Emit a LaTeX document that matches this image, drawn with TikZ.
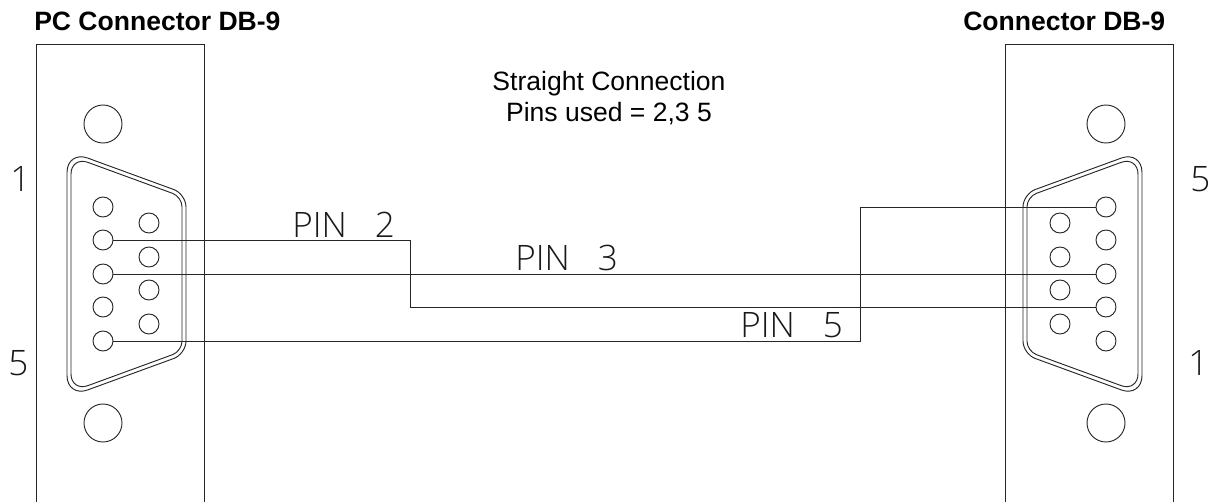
\documentclass[tikz,border=0pt]{standalone}
\usepackage{fontspec}
\setmainfont{Liberation Sans}
\newfontfamily\cadfont{Open Sans Light}
\tikzset{
  ln/.style={line width=0.7pt,black!85},
  pinc/.style={circle,draw,ln,minimum size=15pt,inner sep=0pt},
  hole/.style={circle,draw,ln,minimum size=28.5pt,inner sep=0pt},
  title/.style={anchor=base west,inner sep=0pt,font=\fontsize{19.9pt}{24pt}\bfseries\selectfont},
  note/.style={anchor=base,inner sep=0pt,font=\fontsize{19.9pt}{24pt}\selectfont},
  cad/.style={anchor=base west,inner sep=0pt,text=black!90,font=\fontsize{26.3pt}{30pt}\cadfont},
  connector/.pic={
    \draw[ln] (36,502) -- (36,44) -- (204,44) -- (204,502);
    \node[hole] (h1) at (103,124) {};
    \node[hole] (h2) at (103,423) {};
    \draw[ln] [rounded corners=16.5pt] (67,274) -- (67,150.5) [rounded corners=9.75pt] -- (186,194) -- (186,354) [rounded corners=16.5pt] -- (67,397.5) -- cycle;
    \draw[ln] [rounded corners=13.5pt] (71,274) -- (71,156.2) [rounded corners=7.5pt] -- (182,196.8) -- (182,351.2) [rounded corners=13.5pt] -- (71,391.8) -- cycle;
    \node[pinc] (p1) at (103,207) {};
    \node[pinc] (p2) at (103,240) {};
    \node[pinc] (p3) at (103,274) {};
    \node[pinc] (p4) at (103,307) {};
    \node[pinc] (p5) at (103,341) {};
    \node[pinc] (q1) at (149,223) {};
    \node[pinc] (q2) at (149,257) {};
    \node[pinc] (q3) at (149,290) {};
    \node[pinc] (q4) at (149,324) {};
  }
}
\begin{document}
\begin{tikzpicture}[x=0.75pt,y=-0.75pt]
\useasboundingbox (0,0) rectangle (1214,502);
\pic (L) at (0,0) {connector};
\pic[xscale=-1] (R) at (1209,0) {connector};
\node[title] (tl) at (34,31) {PC Connector DB-9};
\node[title] (tr) at (963,31) {Connector DB-9};
\node[note] (n1) at (609,91) {Straight Connection};
\node[note] (n2) at (609,122) {Pins used = 2,3 5};
\node[cad] (pin2) at (292,238) {PIN\hspace{0.8em}2};
\node[cad] (pin3) at (515,271) {PIN\hspace{0.8em}3};
\node[cad] (pin5) at (740,338) {PIN\hspace{0.8em}5};
\node[cad] (l1) at (10,192) {1};
\node[cad] (l5) at (8,375) {5};
\node[cad] (r5) at (1190,192) {5};
\node[cad] (r1) at (1188,375) {1};
\coordinate (a1) at (410,240);
\coordinate (a2) at (410,307);
\coordinate (b1) at (860,341);
\coordinate (b2) at (860,207);
\draw[ln] (Lp2.east) -- (a1) -- (a2) -- (Rp4.west);
\draw[ln] (Lp3.east) -- (Rp3.west);
\draw[ln] (Lp5.east) -- (b1) -- (b2) -- (Rp1.west);
\end{tikzpicture}
\end{document}
